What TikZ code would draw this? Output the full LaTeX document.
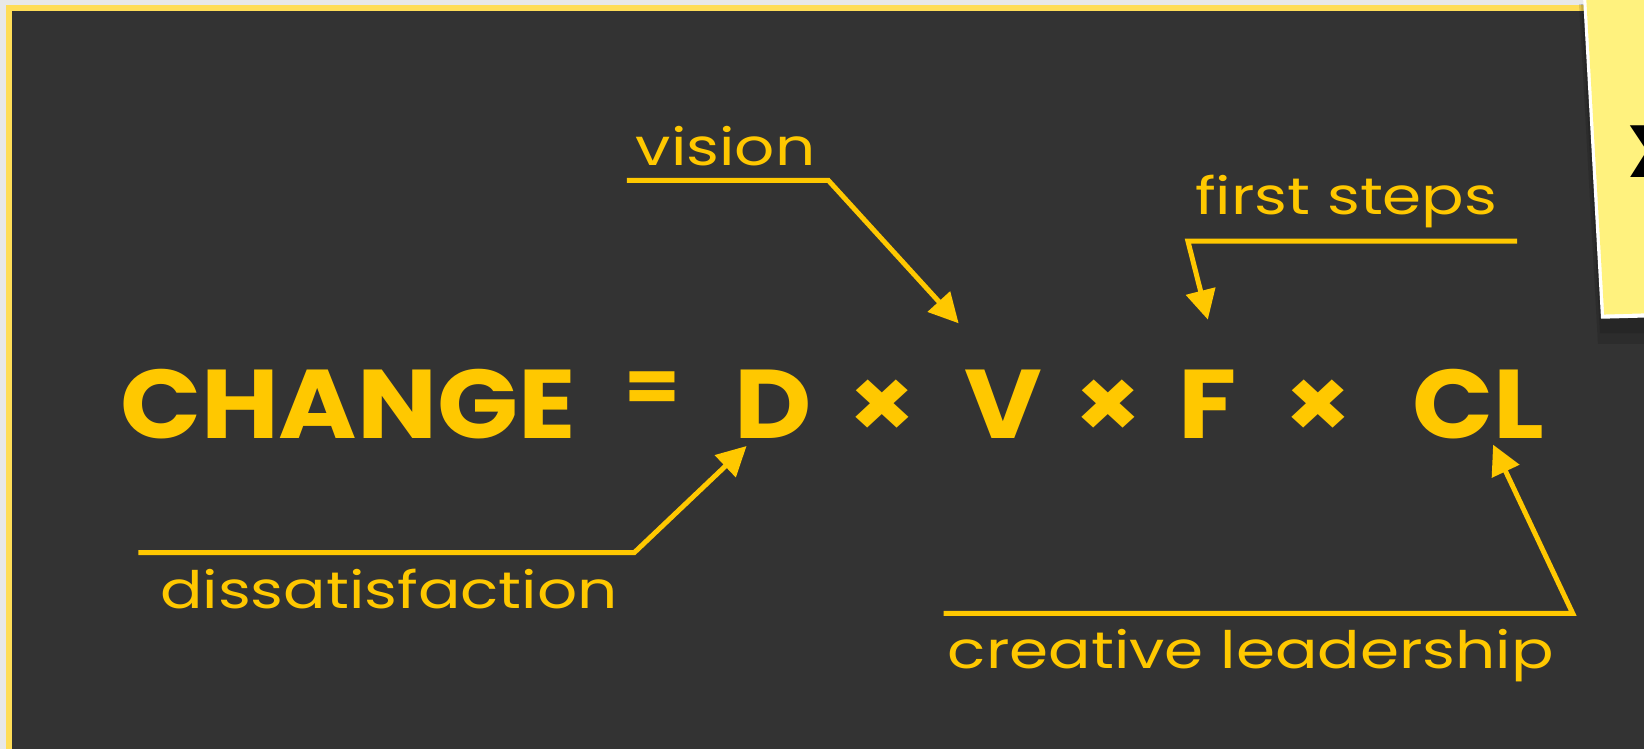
\documentclass[tikz,border=0pt]{standalone}
\usepackage{fontspec}
\setmainfont{Poppins}
\newfontfamily\handfont{Poppins}[FakeStretch=1.22]
\newfontfamily\markerfont{Poppins}[FakeStretch=1.09]
\usepackage{tikz}
\usetikzlibrary{arrows.meta, positioning, calc}
\definecolor{PageGrey}{HTML}{E8E8E8}
\definecolor{BoardDark}{HTML}{333333}
\definecolor{BoardFrame}{HTML}{FFDD57}
\definecolor{ChalkYellow}{HTML}{FFC800}
\definecolor{NoteYellow}{HTML}{FFF27E}
\tikzset{
    % Formula pieces
    formula/.style={
        anchor=base,
        inner sep=0pt,
        text=ChalkYellow,
        font=\markerfont\fontsize{53}{60}\selectfont\bfseries
    },
    % Handwritten annotations
    labeltext/.style={
        anchor=base,
        inner sep=0pt,
        text=ChalkYellow,
        font=\handfont\fontsize{28}{32}\selectfont
    },
    % Underline plus arrow
    callout/.style={
        -{Triangle[length=16pt,width=16pt]},
        line width=2.7pt,
        ChalkYellow
    }
}

\begin{document}
\begin{tikzpicture}[x=0.02cm, y=-0.02cm]
    \useasboundingbox (0,0) rectangle (1568,714);
    \clip (0,0) rectangle (1568,714);

    % Board
    \fill[PageGrey] (0,0) rectangle (1568,714);
    \fill[BoardFrame] (5.7,4.8) rectangle (1600,760);
    \fill[BoardDark] (11.5,10.5) rectangle (1600,760);

    % Sticky note
    \fill[black,opacity=0.12] (1506,4) -- (1524,328) -- (1600,328) -- (1600,4) -- cycle;
    \fill[black,opacity=0.12] (1508,4) -- (1526,318) -- (1600,318) -- (1600,4) -- cycle;
    \fill[white] (1510,0) -- (1527,304) -- (1600,302) -- (1600,0) -- cycle;
    \fill[NoteYellow] (1513,0) -- (1530,300) -- (1600,298) -- (1600,0) -- cycle;
    \node[font=\fontsize{40}{44}\selectfont\bfseries, text=black, inner sep=0pt] (note) at (1578,145) {X};

    % Formula
    \node[formula] (change) at (332,418) {CHANGE};
    \node[formula, font=\markerfont\fontsize{40}{44}\selectfont\bfseries] (eq) at (622,393) {=};
    \node[formula] (D) at (737,418) {D};
    \node[formula] (x1) at (842,418) {×};
    \node[formula] (V) at (957,418) {V};
    \node[formula] (x2) at (1057,418) {×};
    \node[formula] (F) at (1152,418) {F};
    \node[formula] (x3) at (1257,418) {×};
    \node[formula] (CL) at (1410,418) {CL};

    % Annotations
    \node[labeltext] (vision) at (692,158) {vision};
    \node[labeltext] (steps) at (1284,205) {first steps};
    \node[labeltext] (dissat) at (371,580) {dissatisfaction};
    \node[labeltext] (leader) at (1193,638) {creative leadership};

    % Bends
    \coordinate (vis-a) at (598,172);
    \coordinate (vis-b) at (790,172);
    \coordinate (stp-a) at (1447,230);
    \coordinate (stp-b) at (1133,230);
    \coordinate (dis-a) at (132,527);
    \coordinate (dis-b) at (605,527);
    \coordinate (lead-a) at (900,585);
    \coordinate (lead-b) at (1500,585);

    % Arrows
    \draw[callout] (vis-a) -- (vis-b) -- ([xshift=-3pt,yshift=25pt]V.north west);
    \draw[callout] (stp-a) -- (stp-b) -- ([xshift=16pt,yshift=27pt]F.north west);
    \draw[callout] (dis-a) -- (dis-b) -- ([xshift=7pt,yshift=-4pt]D.south west);
    \draw[callout] (lead-a) -- (lead-b) -- ([xshift=-28pt,yshift=-3pt]CL.south east);
\end{tikzpicture}
\end{document}
